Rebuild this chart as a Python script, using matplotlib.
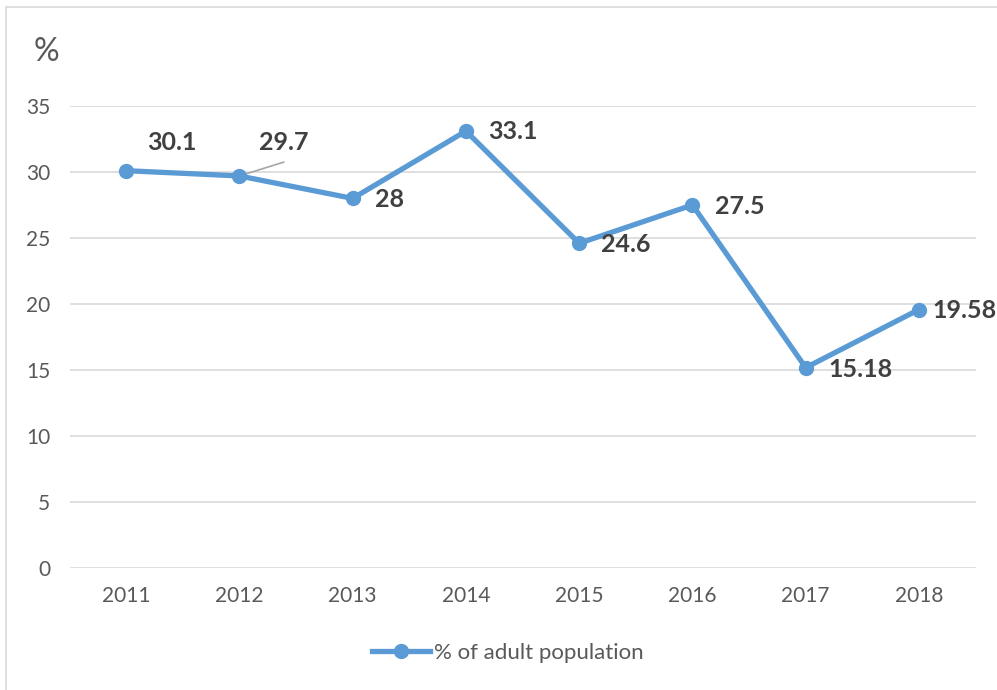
import matplotlib
matplotlib.use("Agg")
import matplotlib.pyplot as plt
from matplotlib.lines import Line2D
from matplotlib.patches import Rectangle

plt.rcParams['font.family'] = ['Lato', 'DejaVu Sans']

years = ["2011", "2012", "2013", "2014", "2015", "2016", "2017", "2018"]
values = [30.1, 29.7, 28, 33.1, 24.6, 27.5, 15.18, 19.58]
value_labels = ["30.1", "29.7", "28", "33.1", "24.6", "27.5", "15.18", "19.58"]
series_name = "% of adult population"
y_ticks = [0, 5, 10, 15, 20, 25, 30, 35]

LINE_COLOR = "#5B9BD5"
GRID_COLOR = "#D9D9D9"
TICK_COLOR = "#595959"
LABEL_COLOR = "#404040"

fig = plt.figure(figsize=(9.97, 6.9), dpi=100)
fig.patch.set_facecolor("white")

# chart-area frame
fig.add_artist(Rectangle((6 / 997, -0.01), 1.2, 1 - 7 / 690 + 0.01,
                         transform=fig.transFigure, fill=False,
                         edgecolor="#D9D9D9", linewidth=1.2))

ax = fig.add_axes([69.5 / 997, 1 - 568 / 690, (975.6 - 69.5) / 997, (568 - 106) / 690])
x = list(range(len(years)))
ax.plot(x, values, color=LINE_COLOR, linewidth=3.8, marker="o",
        markersize=10, solid_capstyle="round", zorder=3)

ax.set_xlim(-0.5, len(years) - 0.5)
ax.set_ylim(0, 35)
ax.set_yticks(y_ticks)
ax.set_xticks(x)
ax.set_xticklabels(years)
ax.grid(axis="y", color=GRID_COLOR, linewidth=1.2)
ax.set_axisbelow(True)
for s in ax.spines.values():
    s.set_visible(False)
ax.tick_params(axis="both", length=0, labelsize=15, labelcolor=TICK_COLOR)
ax.tick_params(axis="y", pad=14)
ax.tick_params(axis="x", pad=13)

# data labels (offsets in points)
offsets = [(15, 20), (14, 24), (16, -1), (16, 0), (16, -1), (16, -1), (16, -1), (10, -1)]
for xi, v, lab, (dx, dy) in zip(x, values, value_labels, offsets):
    ax.annotate(lab, (xi, v), xytext=(dx, dy), textcoords="offset points",
                ha="left", va="center", fontsize=18, fontweight="bold",
                color=LABEL_COLOR, zorder=4)

# leader line for the 2012 label
ax.annotate("", xy=(1, values[1]), xytext=(32, 10), textcoords="offset points",
            arrowprops=dict(arrowstyle="-", color="#A6A6A6", linewidth=1.2,
                            shrinkA=0, shrinkB=0), zorder=2)

fig.text(46 / 997, 1 - 52 / 690, "%", fontsize=23, color=TICK_COLOR,
         ha="center", va="center")

handle = Line2D([], [], color=LINE_COLOR, linewidth=3.8, marker="o", markersize=10)
fig.legend([handle], [series_name], loc="center", bbox_to_anchor=(508 / 997, 1 - 653 / 690),
           frameon=False, fontsize=16, labelcolor=TICK_COLOR, handlelength=2.6,
           handletextpad=0.2)

fig.savefig("out.png", dpi=100, facecolor="white")
